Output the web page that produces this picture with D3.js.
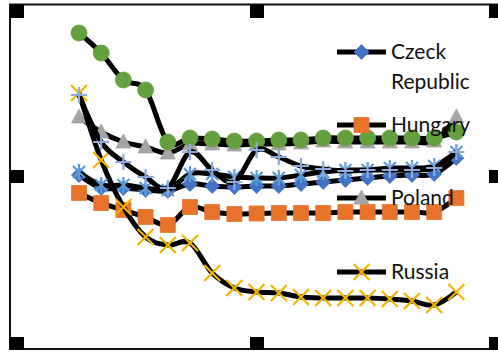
<!DOCTYPE html>
<html>
<head>
<meta charset="utf-8">
<script src="https://cdn.jsdelivr.net/npm/d3@7/dist/d3.min.js"></script>
<style>
  html, body { margin: 0; padding: 0; background: #fff; }
  svg { display: block; }
</style>
</head>
<body>
<svg id="chart" width="498" height="352"></svg>
<script>
// Periods along the horizontal axis (no axis is drawn)
const periods = [1, 2, 3, 4, 5, 6, 7, 8, 9, 10, 11, 12, 13, 14, 15, 16, 17, 18];

// Series values
const czech   = [15.5, 14.2, 14.2, 14.0, 13.9, 14.6, 14.4, 14.3, 14.4, 14.4, 14.6, 14.8, 15.0, 15.2, 15.4, 15.5, 15.6, 17.2];
const hungary = [13.7, 12.7, 12.0, 11.3, 10.5, 12.3, 11.8, 11.6, 11.65, 11.7, 11.7, 11.7, 11.8, 11.8, 11.8, 11.8, 11.8, 13.2];
const poland  = [21.3, 19.8, 18.8, 18.3, 17.7, 18.6, 18.6, 18.5, 18.6, 18.6, 18.7, 18.9, 18.8, 18.8, 18.8, 18.8, 18.9, 21.3];
const russia  = [23.7, 17.0, 12.3, 9.3, 8.5, 8.7, 5.7, 4.2, 3.8, 3.7, 3.3, 3.2, 3.2, 3.2, 3.1, 2.9, 2.5, 3.8];
const starSeries  = [15.8, 14.5, 14.5, 14.2, 14.0, 15.6, 15.6, 15.3, 15.2, 15.2, 15.5, 15.8, 16.0, 16.0, 16.2, 16.2, 16.4, 17.8];
const greenSeries = [29.7, 27.7, 25.0, 24.0, 18.8, 19.2, 19.1, 18.9, 18.9, 19.0, 19.0, 19.2, 19.2, 19.2, 19.2, 19.2, 19.2, 19.8];
const plusSeries  = [23.5, 18.8, 16.8, 15.3, 14.2, 17.8, 16.0, 14.8, 18.0, 17.3, 16.4, 16.1, 15.9, 16.0, 16.0, 16.0, 16.2, 17.8];

// Legend labels (only four series appear in the legend)
const legendLabels = [["Czeck", "Republic"], ["Hungary"], ["Poland"], ["Russia"]];

const series = [
  { values: czech,       marker: "diamond",  color: "#4472C4" },
  { values: hungary,     marker: "square",   color: "#E8742C" },
  { values: poland,      marker: "triangle", color: "#A5A5A5" },
  { values: russia,      marker: "x",        color: "#F2B500" },
  { values: starSeries,  marker: "star",     color: "#5B9BD5" },
  { values: greenSeries, marker: "circle",   color: "#65A03F" },
  { values: plusSeries,  marker: "plus",     color: "#8EA9DE" }
];

const svg = d3.select("#chart");

const x = d3.scalePoint().domain(periods).range([79, 456.4]);
const y = d3.scaleLinear().domain([0, 32]).range([330, 10]);

// Marker path builders
function markerPath(type) {
  switch (type) {
    case "diamond":  return "M0,-7.5L7.5,0L0,7.5L-7.5,0Z";
    case "square":   return "M-7.5,-7.5H7.5V7.5H-7.5Z";
    case "triangle": return "M0,-8L7.5,6L-7.5,6Z";
    case "x":        return "M-8,-8L8,8M-8,8L8,-8";
    case "plus":     return "M-8,0H8M0,-8V8";
    case "star":     return "M-6,-6L6,6M-6,6L6,-6M0,-8V8";
    default:         return null;
  }
}
const strokeOnly = { x: true, plus: true, star: true };

function drawMarker(g, type, color, cx, cy) {
  if (type === "circle") {
    g.append("circle").attr("cx", cx).attr("cy", cy).attr("r", 8)
      .attr("fill", color).attr("stroke", color).attr("stroke-width", 0.8);
    return;
  }
  const p = g.append("path")
    .attr("d", markerPath(type))
    .attr("transform", `translate(${cx},${cy})`);
  if (strokeOnly[type]) {
    p.attr("fill", "none").attr("stroke", color).attr("stroke-width", 2.2);
  } else {
    p.attr("fill", color).attr("stroke", color).attr("stroke-width", 0.8);
  }
}

const line = d3.line()
  .x((d, i) => x(periods[i]))
  .y(d => y(d))
  .curve(d3.curveCatmullRom.alpha(0));

const plot = svg.append("g");
series.forEach(s => {
  const g = plot.append("g");
  g.append("path")
    .attr("d", line(s.values))
    .attr("fill", "none")
    .attr("stroke", "#000")
    .attr("stroke-width", 5)
    .attr("stroke-linejoin", "round");
  s.values.forEach((v, i) => drawMarker(g, s.marker, s.color, x(periods[i]), y(v)));
});

// Legend
const legendY = [52, 125, 198, 272];
const legend = svg.append("g")
  .attr("font-family", "Lato, 'Open Sans', sans-serif")
  .attr("font-size", 21)
  .attr("fill", "#111");
legendLabels.forEach((lab, i) => {
  const s = series[i];
  const ly = legendY[i];
  legend.append("line")
    .attr("x1", 337).attr("x2", 386).attr("y1", ly).attr("y2", ly)
    .attr("stroke", "#000").attr("stroke-width", 5);
  drawMarker(legend, s.marker, s.color, 361.5, ly);
  const t = legend.append("text").attr("x", 391).attr("y", ly + 7);
  lab.forEach((part, k) => {
    t.append("tspan").attr("x", 391).attr("dy", k === 0 ? 0 : 30).text(part);
  });
});

// Frame and selection handles
svg.append("rect")
  .attr("x", 10).attr("y", 4.5).attr("width", 489).attr("height", 344.5)
  .attr("fill", "none").attr("stroke", "#111").attr("stroke-width", 2);

const handleX = [10, 250, 489];
const handleY = [5, 170, 337];
handleY.forEach((hy, r) => {
  handleX.forEach((hx, c) => {
    if (r === 1 && c === 1) return;
    svg.append("rect")
      .attr("x", hx).attr("y", hy).attr("width", 14).attr("height", 13)
      .attr("fill", "#000");
  });
});
</script>
</body>
</html>
